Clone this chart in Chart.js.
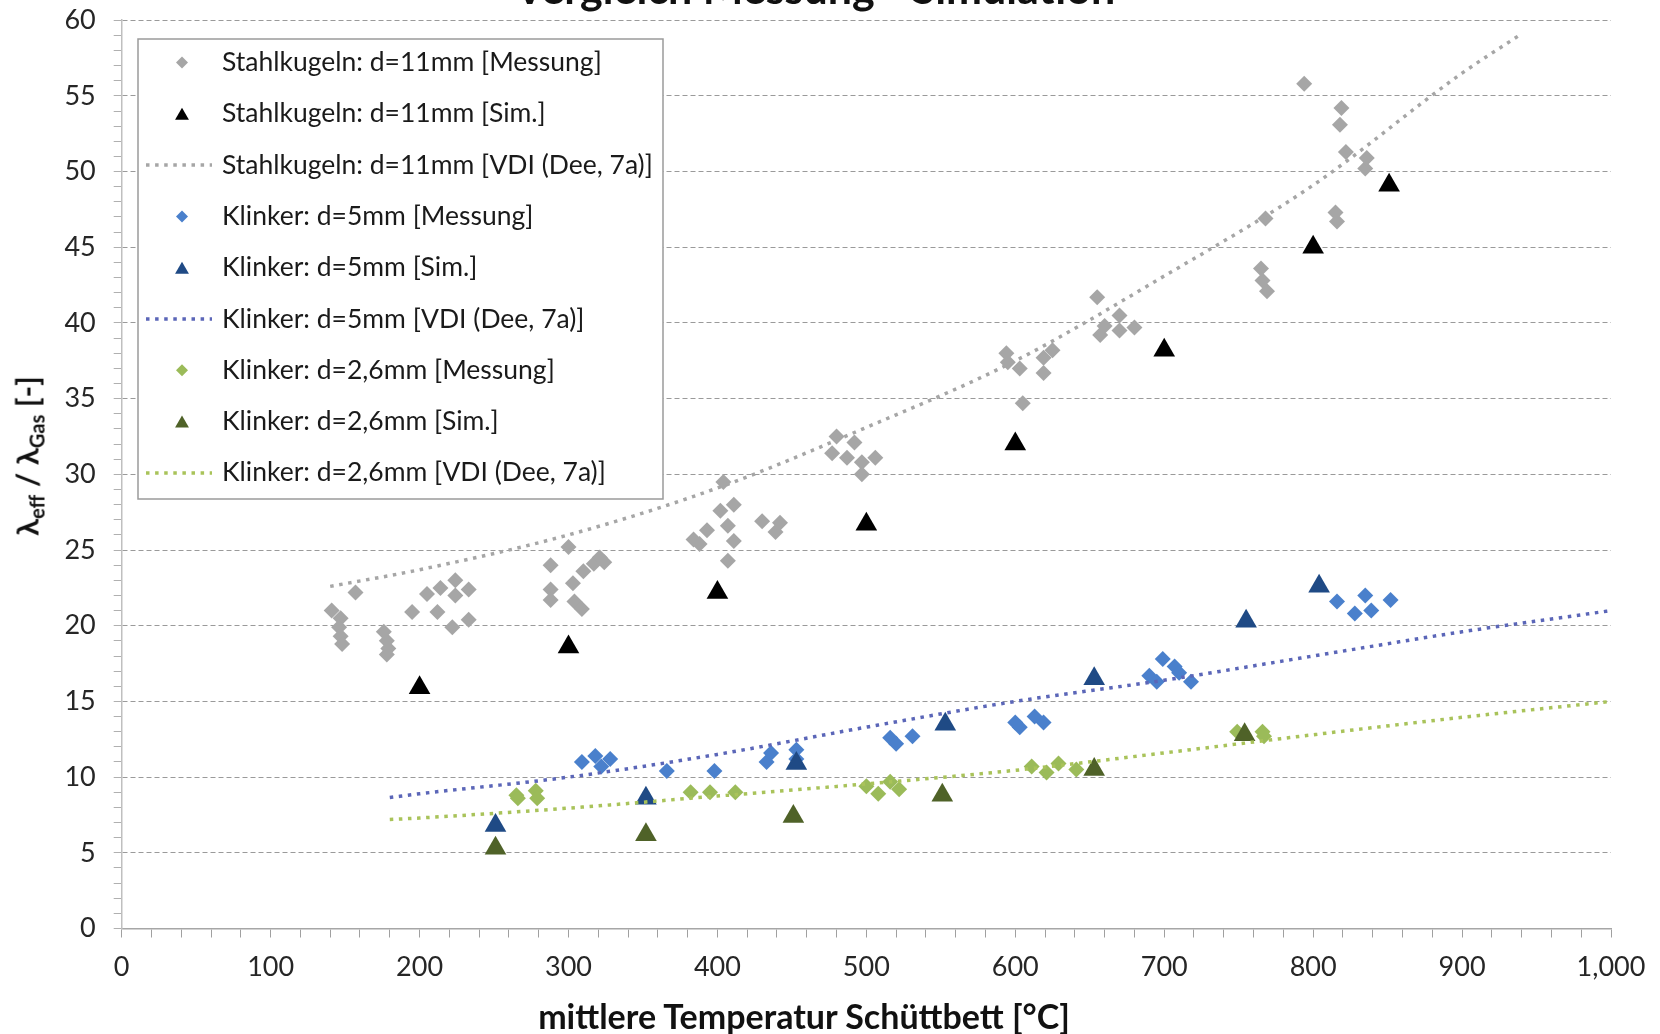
<!DOCTYPE html>
<html>
<head>
<meta charset="utf-8">
<script src="https://cdn.jsdelivr.net/npm/chart.js@4.4.1/dist/chart.umd.min.js"></script>
<style>
    html, body { margin: 0; padding: 0; background: #fff; overflow: hidden; }
    #wrap { position: relative; width: 1660px; height: 1034px; overflow: hidden; }
    #chart { position: absolute; left: 0; top: -14px; }
    .lbl { position: absolute; font-family: Lato, 'Open Sans', sans-serif; font-weight: bold; color: #111; white-space: nowrap; }
    #title { left: 215px; width: 1200px; top: -34px; text-align: center; font-size: 43px; line-height: 43px; }
    #xtitle { left: 804px; top: 1016px; transform: translate(-50%, -50%); font-size: 34px; line-height: 34px; }
    #ytitle { left: 32px; top: 456px; transform: translate(-50%, -50%) rotate(-90deg); font-size: 31px; line-height: 31px; }
    #ytitle sub { font-size: 20px; vertical-align: -6px; }
</style>
</head>
<body>
<div id="wrap">
    <canvas id="chart" width="1660" height="1048"></canvas>
    <div class="lbl" id="title">Vergleich Messung - Simulation</div>
    <div class="lbl" id="ytitle">λ<sub>eff</sub> / λ<sub>Gas</sub> [-]</div>
    <div class="lbl" id="xtitle">mittlere Temperatur Schüttbett [°C]</div>
</div>
<script>
// Vergleich Messung - Simulation: λeff/λGas über mittlerer Schüttbett-Temperatur

// Stahlkugeln d=11mm
const stahlMessT = [141, 147, 146, 147, 148, 157, 176, 178, 179, 178, 195, 205, 214, 212, 224, 224, 222, 233, 233,
    288, 288, 288, 300, 303, 304, 309, 310, 317, 321, 324, 384, 388, 393, 402, 404, 407, 411, 411, 407,
    430, 442, 439, 480, 477, 492, 487, 497, 497, 506, 594, 595, 603, 605, 619, 619, 625,
    655, 657, 660, 670, 670, 680, 765, 766, 769, 768, 794, 815, 816, 818, 819, 822, 835, 836];
const stahlMessL = [21.0, 20.5, 19.9, 19.3, 18.8, 22.2, 19.6, 19.0, 18.5, 18.1, 20.9, 22.1, 22.5, 20.9, 23.0, 22.0, 19.9, 22.4, 20.4,
    24.0, 22.4, 21.7, 25.2, 22.8, 21.6, 21.1, 23.6, 24.1, 24.5, 24.2, 25.7, 25.4, 26.3, 27.6, 29.5, 26.6, 28.0, 25.6, 24.3,
    26.9, 26.8, 26.2, 32.5, 31.4, 32.1, 31.1, 30.8, 30.0, 31.1, 38.0, 37.4, 37.0, 34.7, 37.7, 36.7, 38.2,
    41.7, 39.2, 39.8, 40.5, 39.5, 39.7, 43.6, 42.8, 42.1, 46.9, 55.8, 47.3, 46.7, 53.1, 54.2, 51.3, 50.2, 50.9];
const stahlSimT = [200, 300, 400, 500, 600, 700, 800, 851];
const stahlSimL = [15.9, 18.6, 22.2, 26.7, 32.0, 38.2, 45.0, 49.1];
const stahlVdiT = [140, 200, 300, 400, 500, 600, 700, 800, 900, 940];
const stahlVdiL = [22.6, 23.7, 26.0, 29.1, 33.1, 37.5, 43.1, 49.1, 56.5, 59.1];

// Klinker d=5mm
const k5MessT = [309, 318, 322, 328, 366, 398, 433, 436, 453, 453, 516, 520, 531, 600, 603, 613, 619,
    690, 695, 699, 707, 710, 718, 816, 828, 835, 839, 852];
const k5MessL = [11.0, 11.4, 10.7, 11.2, 10.4, 10.4, 11.0, 11.6, 11.8, 11.2, 12.6, 12.2, 12.7, 13.6, 13.3, 14.0, 13.6,
    16.7, 16.3, 17.8, 17.3, 16.9, 16.3, 21.6, 20.8, 22.0, 21.0, 21.7];
const k5SimT = [251, 352, 453, 553, 653, 755, 804];
const k5SimL = [6.8, 8.6, 10.9, 13.5, 16.5, 20.3, 22.6];
const k5VdiT = [180, 200, 300, 400, 500, 600, 700, 800, 900, 1000];
const k5VdiL = [8.65, 8.9, 10.0, 11.5, 13.3, 15.0, 16.4, 18.0, 19.6, 21.0];

// Klinker d=2,6mm
const k26MessT = [265, 266, 278, 279, 382, 395, 412, 500, 508, 516, 522, 611, 621, 629, 641, 749, 766, 767];
const k26MessL = [8.8, 8.6, 9.1, 8.6, 9.0, 9.0, 9.0, 9.4, 8.9, 9.7, 9.2, 10.7, 10.3, 10.9, 10.5, 13.0, 13.0, 12.7];
const k26SimT = [251, 352, 451, 551, 653, 754];
const k26SimL = [5.3, 6.2, 7.4, 8.8, 10.5, 12.8];
const k26VdiT = [180, 200, 300, 400, 500, 600, 700, 800, 900, 1000];
const k26VdiL = [7.2, 7.3, 7.95, 8.75, 9.55, 10.45, 11.6, 12.8, 13.95, 15.0];

const yTicksMajor = 5;   // Beschriftung alle 5
const xTicksMajor = 100; // Beschriftung alle 100

const FONT = "Lato, 'Open Sans', sans-serif";
const SHIFT = 14; // Canvas ist um SHIFT nach oben verschoben

function pts(xs, ys) {
    return xs.map((x, i) => ({ x: x, y: ys[i] }));
}

function messung(label, xs, ys, color) {
    return {
        label: label, data: pts(xs, ys), pointStyle: 'rectRot', pointRadius: 8,
        backgroundColor: color, borderColor: color, pointBorderWidth: 0, showLine: false
    };
}

function sim(label, xs, ys, color) {
    return {
        label: label, data: pts(xs, ys), pointStyle: 'triangle', pointRadius: 12.5,
        backgroundColor: color, borderColor: color, pointBorderWidth: 0, showLine: false
    };
}

function vdi(label, xs, ys, color) {
    return {
        label: label, data: pts(xs, ys), showLine: true, pointRadius: 0,
        borderColor: color, backgroundColor: color, borderWidth: 3.5,
        borderDash: [3.5, 5.6], cubicInterpolationMode: 'monotone', fill: false
    };
}

const datasets = [
    messung('Stahlkugeln: d=11mm [Messung]', stahlMessT, stahlMessL, '#a6a6a6'),
    sim('Stahlkugeln: d=11mm [Sim.]', stahlSimT, stahlSimL, '#000000'),
    vdi('Stahlkugeln: d=11mm [VDI (Dee, 7a)]', stahlVdiT, stahlVdiL, '#a6a6a6'),
    messung('Klinker: d=5mm [Messung]', k5MessT, k5MessL, '#4a80cc'),
    sim('Klinker: d=5mm [Sim.]', k5SimT, k5SimL, '#1f4a85'),
    vdi('Klinker: d=5mm [VDI (Dee, 7a)]', k5VdiT, k5VdiL, '#5b66b8'),
    messung('Klinker: d=2,6mm [Messung]', k26MessT, k26MessL, '#9bbb59'),
    sim('Klinker: d=2,6mm [Sim.]', k26SimT, k26SimL, '#4f6228'),
    vdi('Klinker: d=2,6mm [VDI (Dee, 7a)]', k26VdiT, k26VdiL, '#a9c35a')
];
// spätere Reihen liegen oben (wie in Excel)
datasets.forEach((ds, i) => { ds.order = datasets.length - i; });

function drawMarker(ctx, style, x, y, r) {
    ctx.beginPath();
    if (style === 'triangle') {
        ctx.moveTo(x, y - r);
        ctx.lineTo(x + r * Math.cos(Math.PI / 6), y + r / 2);
        ctx.lineTo(x - r * Math.cos(Math.PI / 6), y + r / 2);
    } else {
        ctx.moveTo(x, y - r);
        ctx.lineTo(x + r, y);
        ctx.lineTo(x, y + r);
        ctx.lineTo(x - r, y);
    }
    ctx.closePath();
    ctx.fill();
}

// Legende im Diagrammbereich (links oben, mit Rahmen)
const legendBox = {
    id: 'legendBox',
    afterDraw(chart) {
        const ctx = chart.ctx;
        const box = { x: 138, y: 39 + SHIFT, w: 525, h: 460 };
        const rowTop = 62.5 + SHIFT, rowH = 51.3;
        ctx.save();
        ctx.fillStyle = '#ffffff';
        ctx.fillRect(box.x, box.y, box.w, box.h);
        ctx.strokeStyle = '#9a9a9a';
        ctx.lineWidth = 1.5;
        ctx.strokeRect(box.x, box.y, box.w, box.h);
        ctx.font = '26.5px ' + FONT;
        ctx.textBaseline = 'middle';
        chart.data.datasets.forEach((ds, i) => {
            const y = rowTop + i * rowH;
            if (ds.showLine) {
                ctx.strokeStyle = ds.borderColor;
                ctx.lineWidth = 3.5;
                ctx.setLineDash(ds.borderDash);
                ctx.beginPath();
                ctx.moveTo(146, y);
                ctx.lineTo(212, y);
                ctx.stroke();
                ctx.setLineDash([]);
            } else {
                ctx.fillStyle = ds.backgroundColor;
                drawMarker(ctx, ds.pointStyle, 182, y + (ds.pointStyle === 'triangle' ? 2 : 0),
                    ds.pointStyle === 'triangle' ? 8 : 6);
            }
            ctx.fillStyle = '#1a1a1a';
            ctx.fillText(ds.label, 222, y);
        });
        ctx.restore();
    }
};

new Chart(document.getElementById('chart'), {
    type: 'scatter',
    data: { datasets: datasets },
    plugins: [legendBox],
    options: {
        responsive: false,
        animation: false,
        devicePixelRatio: 1,
        layout: { padding: { top: 5, right: 49, bottom: 0, left: 0 } },
        plugins: {
            legend: { display: false },
            tooltip: { enabled: false },
            title: { display: false }
        },
        scales: {
            x: {
                type: 'linear',
                min: 0,
                max: 1000,
                afterFit: scale => { scale.height = 105.5; },
                ticks: {
                    stepSize: 20,
                    autoSkip: false,
                    maxRotation: 0,
                    padding: 14,
                    color: '#262626',
                    font: { family: FONT, size: 27 },
                    callback: v => (v % xTicksMajor === 0 ? v.toLocaleString('en-US') : '')
                },
                grid: {
                    drawOnChartArea: false,
                    drawTicks: true,
                    tickLength: 9,
                    tickColor: '#a0a0a0',
                    tickWidth: 1
                },
                border: { color: '#a6a6a6', width: 1.5 }
            },
            y: {
                type: 'linear',
                min: 0,
                max: 60,
                afterFit: scale => { scale.width = 121.7; },
                ticks: {
                    stepSize: 1,
                    autoSkip: false,
                    padding: 18,
                    color: '#262626',
                    font: { family: FONT, size: 27 },
                    callback: v => (v % yTicksMajor === 0 ? String(v) : '')
                },
                grid: {
                    color: c => (c.tick && c.tick.value % yTicksMajor === 0 && c.tick.value !== 0 ? '#9a9a9a' : 'rgba(0,0,0,0)'),
                    lineWidth: 1,
                    drawTicks: true,
                    tickLength: 8,
                    tickColor: '#b0b0b0',
                    tickWidth: 1
                },
                border: { color: '#bfbfbf', width: 1.5, dash: [5, 3] }
            }
        }
    }
});
</script>
</body>
</html>
